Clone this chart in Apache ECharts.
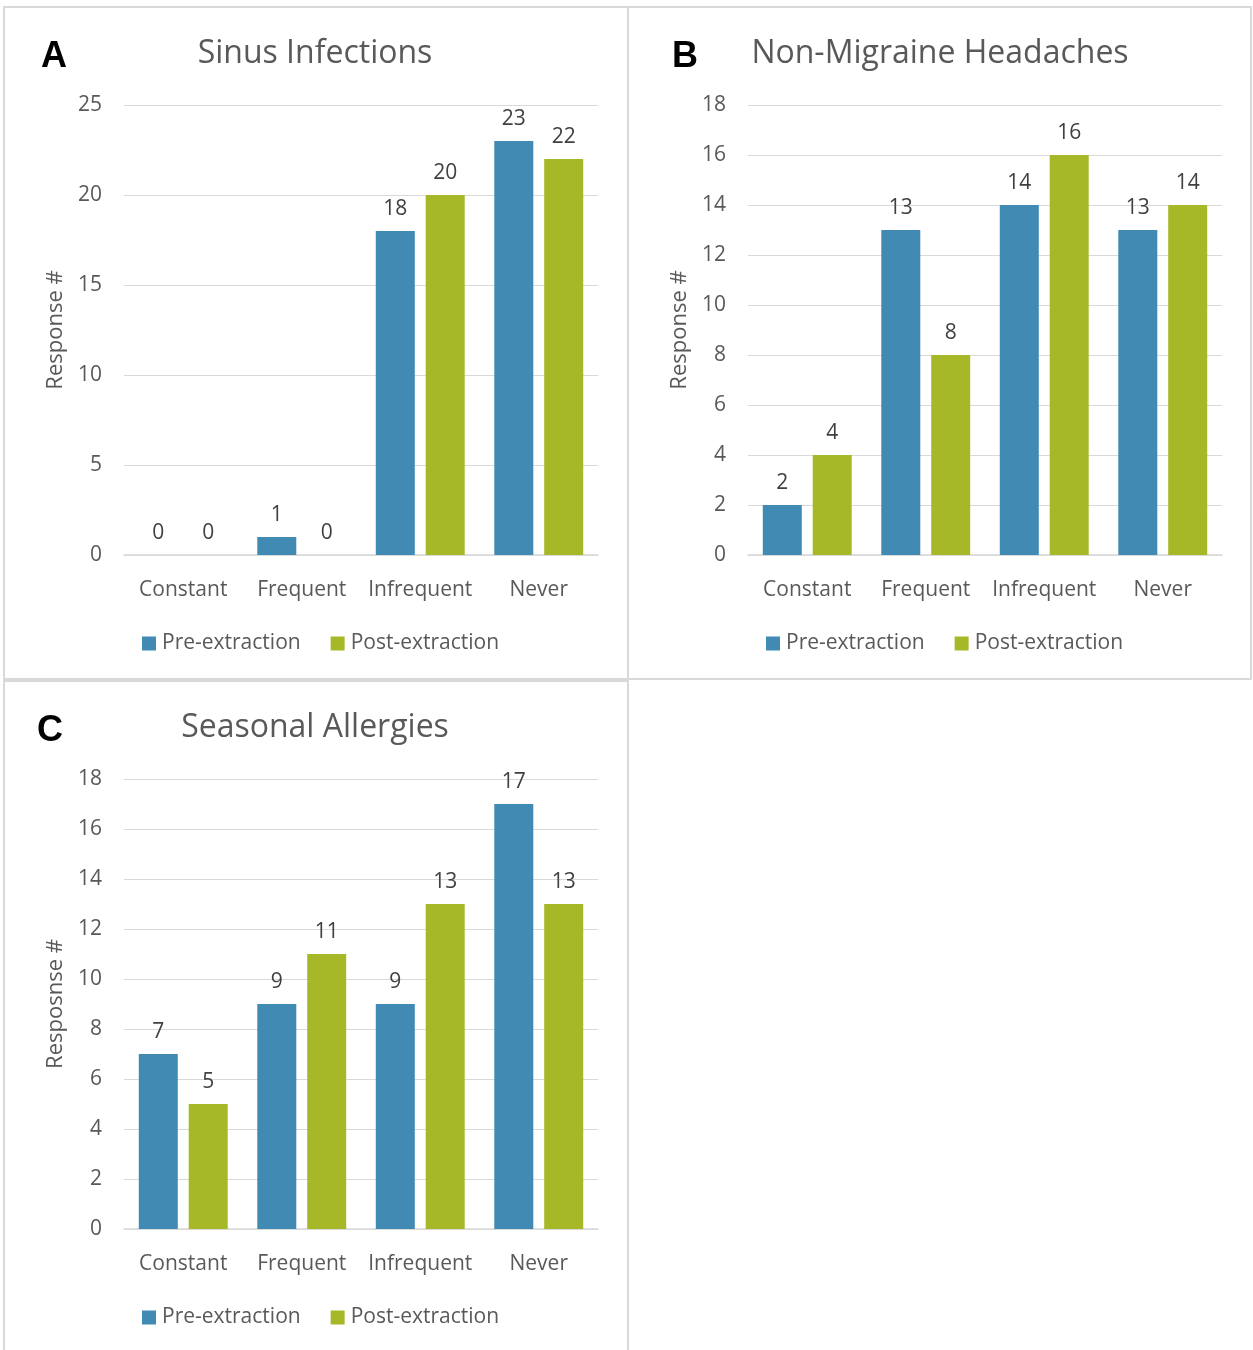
<!DOCTYPE html>
<html><head><meta charset="utf-8">
<script src="https://cdn.jsdelivr.net/npm/echarts@6/dist/echarts.min.js"></script>
<style>html,body{margin:0;padding:0;background:#fff;}#c{width:1253px;height:1350px;}</style>
</head><body><div id="c"></div>
<script>
const categories = ['Constant', 'Frequent', 'Infrequent', 'Never'];
const seriesNames = ['Pre-extraction', 'Post-extraction'];
const sinusPre = [0, 1, 18, 23];
const sinusPost = [0, 0, 20, 22];
const headPre = [2, 13, 14, 13];
const headPost = [4, 8, 16, 14];
const allergyPre = [7, 9, 9, 17];
const allergyPost = [5, 11, 13, 13];
const panelTitles = ['Sinus Infections', 'Non-Migraine Headaches', 'Seasonal Allergies'];
const panelLetters = ['A', 'B', 'C'];
const yTitles = ['Response #', 'Response #', 'Resposnse #'];
const yMax = [25, 18, 18];
const yStep = [5, 2, 2];

const FONT = '"Open Sans", sans-serif';
const TXT = '#595959';
const BLUE = '#418AB3';
const GREEN = '#A6B727';
const GRIDC = '#D9D9D9';

const panels = [
  {gx: 124, gy: 105, px: 4, py: 7, pw: 624, ph: 672, cx: 310, lx: 41, ly: 39},
  {gx: 748, gy: 105, px: 628, py: 7, pw: 623, ph: 672, cx: 935, lx: 672, ly: 39},
  {gx: 124, gy: 779, px: 4, py: 681, pw: 624, ph: 680, cx: 310, lx: 37, ly: 713}
];
const data = [[sinusPre, sinusPost], [headPre, headPost], [allergyPre, allergyPost]];

const chart = echarts.init(document.getElementById('c'), null, {renderer: 'canvas'});
const grid = [], xAxis = [], yAxis = [], series = [], title = [], legend = [], graphic = [];
panels.forEach((p, i) => {
  grid.push({left: p.gx, top: p.gy, width: 474, height: 450, containLabel: false});
  xAxis.push({type: 'category', gridIndex: i, data: categories,
    axisLine: {lineStyle: {color: GRIDC, width: 1.5}}, axisTick: {show: false},
    axisLabel: {interval: 0, color: TXT, fontFamily: FONT, fontSize: 21, margin: 25}});
  yAxis.push({type: 'value', gridIndex: i, min: 0, max: yMax[i], interval: yStep[i],
    name: yTitles[i], nameLocation: 'middle', nameGap: 57,
    nameTextStyle: {color: TXT, fontFamily: FONT, fontSize: 22},
    axisLine: {show: false}, axisTick: {show: false},
    axisLabel: {color: TXT, fontFamily: FONT, fontSize: 21, margin: 22},
    splitLine: {lineStyle: {color: GRIDC, width: 1.2}}});
  [0, 1].forEach(k => {
    series.push({type: 'bar', name: seriesNames[k], xAxisIndex: i, yAxisIndex: i,
      data: data[i][k], barWidth: 39, barGap: '28%',
      itemStyle: {color: k === 0 ? BLUE : GREEN},
      label: {show: true, position: 'top', distance: 11, color: '#404040', fontFamily: FONT, fontSize: 21}});
  });
  title.push({text: panelTitles[i], left: p.cx, textAlign: 'center', top: p.py + 26,
    textStyle: {color: TXT, fontFamily: FONT, fontSize: 32, fontWeight: 'normal'}});
  legend.push({data: seriesNames, left: p.gx + 13, top: p.gy + 523, itemWidth: 14, itemHeight: 14,
    itemGap: 30, icon: 'rect', textStyle: {color: TXT, fontFamily: FONT, fontSize: 21, padding: [0, 0, 0, 1]}});
  graphic.push({type: 'rect', shape: {x: p.px, y: p.py, width: p.pw, height: p.ph},
    style: {fill: 'none', stroke: GRIDC, lineWidth: 2}, silent: true, z: -1});
  graphic.push({type: 'text', left: p.lx, top: p.ly,
    style: {text: panelLetters[i], font: 'bold 36px "Liberation Sans", Arial', fill: '#000'}});
});

chart.setOption({animation: false, backgroundColor: '#fff', grid, xAxis, yAxis, series, title, legend, graphic});
</script></body></html>
